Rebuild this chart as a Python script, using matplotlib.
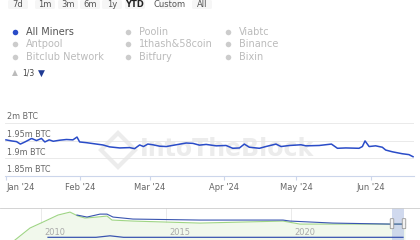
import numpy as np
import matplotlib.pyplot as plt
from matplotlib.lines import Line2D
from matplotlib.patches import FancyBboxPatch

# Botones de rango
botones = ['7d', '1m', '3m', '6m', '1y', 'YTD', 'Custom', 'All']
botones_x = [18, 45, 68, 90, 112, 135, 170, 202]

# Leyenda
series = ['All Miners', 'Poolin', 'Viabtc',
          'Antpool', '1thash&58coin', 'Binance',
          'Bitclub Network', 'Bitfury', 'Bixin']

# Serie principal (dias desde 1 ene 2024, millones de BTC)
dias = [0, 2.3, 4.4, 6, 7.9, 10.7, 12.7, 14.8, 16.2, 18, 19.7, 22.4, 25.2, 27.9,
        29.6, 30.7, 33.5, 37.7, 40.4, 43.2, 47.4, 51.5, 53.6, 55.7, 57.3, 59.1,
        61.2, 64, 66.8, 70.9, 75.1, 77.9, 80.6, 83.4, 87.6, 91.7, 94.5, 97.3,
        99.3, 101.4, 105.6, 108.3, 112.5, 114.6, 118.1, 122.9, 125, 130.5,
        135.6, 138.1, 141.6, 147.1, 148.5, 149.6, 151.3, 154, 156.8, 158.2,
        161, 165.1, 167.9, 169.6]
btc = [1.952, 1.949, 1.947, 1.940, 1.946, 1.956, 1.950, 1.956, 1.946, 1.952,
       1.948, 1.951, 1.953, 1.952, 1.960, 1.946, 1.944, 1.940, 1.9375, 1.932,
       1.929, 1.930, 1.927, 1.9375, 1.933, 1.940, 1.938, 1.934, 1.933, 1.938,
       1.943, 1.942, 1.937, 1.939, 1.935, 1.936, 1.928, 1.929, 1.940, 1.931,
       1.928, 1.933, 1.940, 1.933, 1.936, 1.938, 1.935, 1.936, 1.940, 1.928,
       1.929, 1.928, 1.933, 1.949, 1.933, 1.935, 1.931, 1.923, 1.918, 1.9125,
       1.910, 1.904]

meses = [0, 31, 60, 91, 121, 152]
meses_lbl = ["Jan '24", "Feb '24", "Mar '24", "Apr '24", "May '24", "Jun '24"]
y_ticks = [1.85, 1.9, 1.95, 2.0]
y_lbl = ['1.85m BTC', '1.9m BTC', '1.95m BTC', '2m BTC']

# Navegador (historico)
nav_anio_verde = [2008.96, 2009.56, 2010.08, 2010.68, 2011.16, 2011.48, 2011.76,
                  2012.24, 2012.64, 2012.84, 2013.68, 2016.36, 2019.68, 2020.36,
                  2021.68, 2023.96, 2024.56]
nav_verde = [0, 1.43, 2.14, 2.98, 3.33, 2.86, 2.62, 2.74, 2.86, 2.38, 2.26,
             2.02, 2.26, 1.90, 1.90, 1.90, 1.90]
nav_anio_azul = [2011.44, 2011.84, 2012.36, 2012.64, 2012.88, 2013.68, 2016.36,
                 2019.68, 2019.96, 2021.68, 2023.96, 2024.56]
nav_azul = [2.98, 2.74, 3.09, 3.09, 2.74, 2.50, 2.38, 2.38, 2.26, 2.02, 1.90, 1.90]
nav_anio_bajo = [2010.28, 2012.2, 2012.76, 2013.3, 2024.48]
nav_bajo = [0.32, 0.32, 0.50, 0.32, 0.32]
nav_anios = [2010, 2015, 2020]

azul = '#2a4cc8'
fig = plt.figure(figsize=(4.2, 2.4), dpi=100)
W, H = 420, 240


def fx(x):
    return x / W


def fy(y):
    return 1 - y / H


# botones
for b, x in zip(botones, botones_x):
    fig.patches.append(FancyBboxPatch((fx(x - 10), fy(9)), 20 / W, 9 / H,
                                      boxstyle='round,pad=0,rounding_size=0.005',
                                      transform=fig.transFigure, fc='#f6f6f6', ec='none'))
    fig.text(fx(x), fy(4.8), b, ha='center', va='center', fontsize=6,
             color='#222' if b == 'YTD' else '#555',
             fontweight='bold' if b == 'YTD' else 'normal')

# leyenda
col_x = [15, 128, 228]
fila_y = [32, 44, 57]
for i, s in enumerate(series):
    x, y = col_x[i % 3], fila_y[i // 3]
    activo = i == 0
    fig.add_artist(Line2D([fx(x)], [fy(y)], marker='o', ms=4, mec='none',
                          mfc=azul if activo else '#cccccc'))
    fig.text(fx(x + 11), fy(y), s, va='center', fontsize=7,
             color='#555555' if activo else '#bbbbbb')
fig.text(fx(12), fy(73), '▲', fontsize=5.5, color='#bbbbbb', va='center')
fig.text(fx(22), fy(73), '1/3', fontsize=5.5, color='#444', va='center')
fig.text(fx(38), fy(73), '▼', fontsize=6.5, color='#1f3a93', va='center')

# marca de agua (detras de los ejes)
fig.add_artist(Line2D([fx(118)], [fy(150)], marker='D', ms=17, mfc='none',
                      mec='#ececec', mew=3, zorder=-1))
fig.text(fx(140), fy(149), 'IntoTheBlock', fontsize=17, fontweight='bold',
         color='#ececec', va='center', zorder=-1)

# grafico principal
ax = fig.add_axes([fx(5), fy(175.7), 409 / W, 57.7 / H])
ax.set_xlim(-0.4, 170)
ax.set_ylim(1.85, 2.0142)
for v, l in zip(y_ticks, y_lbl):
    if v > 1.85:
        ax.axhline(v, color='#e6e6e6', lw=0.6, zorder=0)
    ax.annotate(l, xy=(0, v), xycoords=('axes fraction', 'data'), xytext=(2, 6),
                textcoords='offset pixels', va='center', fontsize=5.8, color='#666666')
ax.plot(dias, btc, color=azul, lw=1.1)
ax.set_yticks([])
ax.set_xticks(meses)
ax.set_xticklabels(meses_lbl)
ax.tick_params(axis='x', length=3, color='#ccd6eb', labelsize=6,
               labelcolor='#666666', pad=2.5)
ax.get_xticklabels()[0].set_ha('left')
for s in ['top', 'right', 'left']:
    ax.spines[s].set_visible(False)
ax.spines['bottom'].set_color('#ccd6eb')
ax.spines['bottom'].set_linewidth(0.8)
ax.patch.set_alpha(0)

# navegador
nav = fig.add_axes([0, 0, 1, fy(208)])
nav.set_xlim(2008.36, 2025.16)
nav.set_ylim(0, 3.82)
nav.fill_between(nav_anio_verde, nav_verde, color='#f1f8ec', lw=0)
nav.plot(nav_anio_verde, nav_verde, color='#9fd585', lw=0.8)
nav.plot(nav_anio_azul, nav_azul, color='#3a55b0', lw=0.8)
nav.plot(nav_anio_bajo, nav_bajo, color='#3a55b0', lw=0.9)
for a in nav_anios:
    nav.axvline(a, color='#e6e6e6', lw=0.6, zorder=0)
    nav.text(a + 0.12, 0.95, str(a), fontsize=6, color='#aaaaaa', va='center')
nav.axvspan(2024.04, 2024.52, color='#c5d0ea', alpha=0.8, lw=0)
for a in [2024.04, 2024.52]:
    nav.add_patch(FancyBboxPatch((a - 0.07, 1.35), 0.14, 1.2,
                                 boxstyle='round,pad=0,rounding_size=0.05',
                                 fc='#f2f2f2', ec='#999999', lw=0.6, zorder=5))
nav.set_xticks([])
nav.set_yticks([])
for s in ['right', 'left', 'bottom']:
    nav.spines[s].set_visible(False)
nav.spines['top'].set_color('#cccccc')
nav.spines['top'].set_linewidth(0.6)
nav.patch.set_alpha(0)

plt.savefig('out.png', dpi=100)
